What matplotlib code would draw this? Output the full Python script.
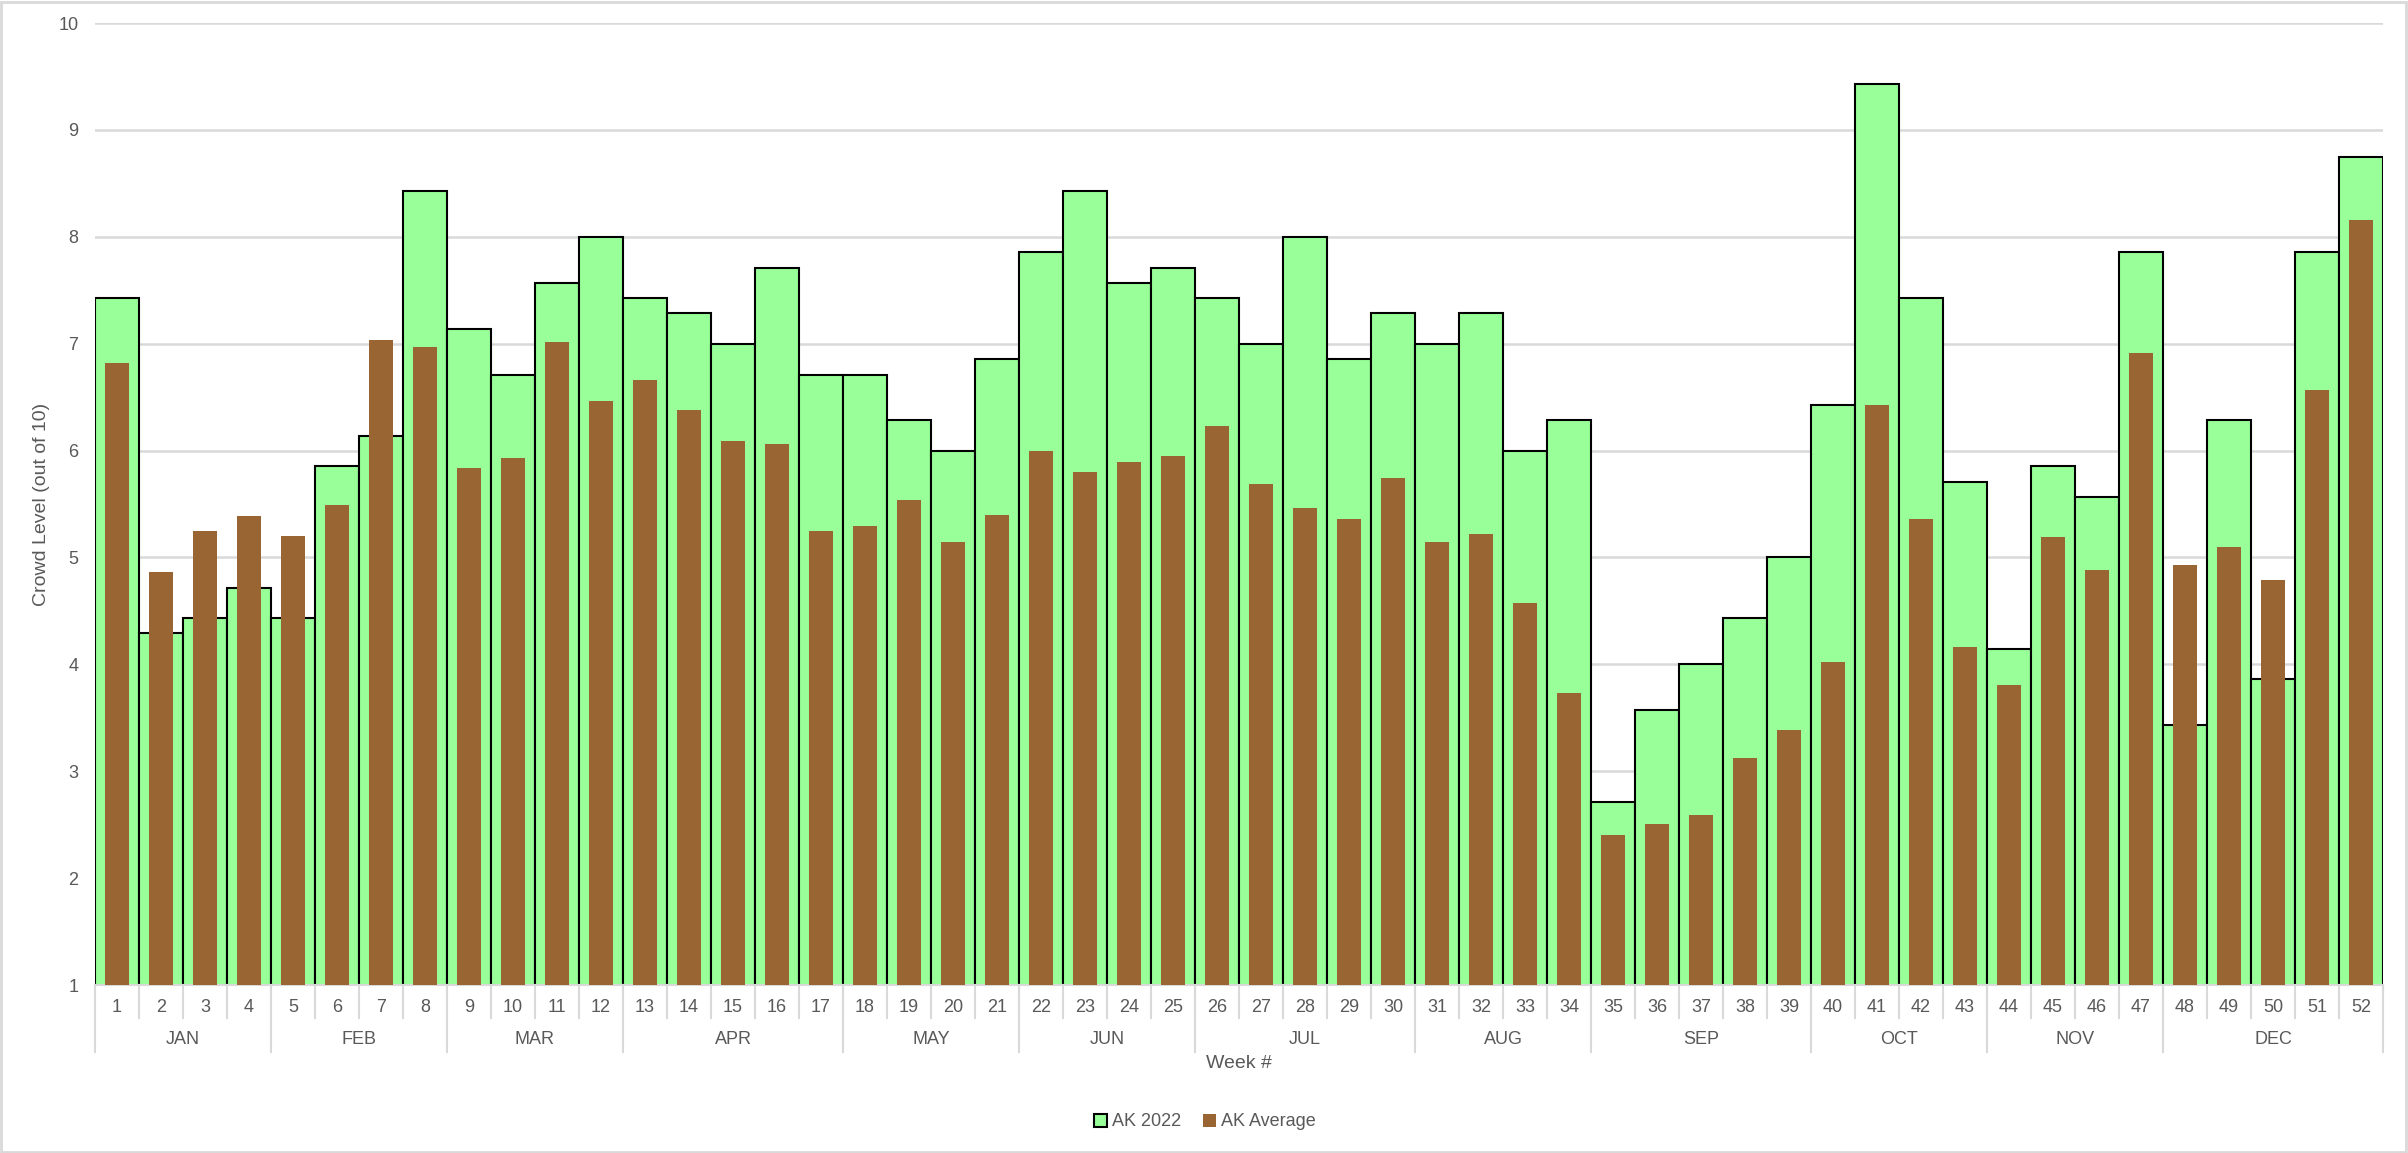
import numpy as np
import matplotlib
matplotlib.use('Agg')
from matplotlib import pyplot as plt
from matplotlib.patches import Rectangle, Patch

plt.rcParams['font.family'] = ['Liberation Sans', 'DejaVu Sans']

weeks = list(range(1, 53))
months = ['JAN', 'FEB', 'MAR', 'APR', 'MAY', 'JUN', 'JUL', 'AUG', 'SEP', 'OCT', 'NOV', 'DEC']
month_weeks = [4, 4, 4, 5, 4, 4, 5, 4, 5, 4, 4, 5]

ak_2022 = [7.43, 4.29, 4.43, 4.71, 4.43, 5.86, 6.14, 8.43, 7.14, 6.71, 7.57, 8.00, 7.43,
           7.29, 7.00, 7.71, 6.71, 6.71, 6.29, 6.00, 6.86, 7.86, 8.43, 7.57, 7.71, 7.43,
           7.00, 8.00, 6.86, 7.29, 7.00, 7.29, 6.00, 6.29, 2.71, 3.57, 4.00, 4.43, 5.00,
           6.43, 9.43, 7.43, 5.71, 4.14, 5.86, 5.57, 7.86, 3.43, 6.29, 3.86, 7.86, 8.75]
ak_avg = [6.82, 4.86, 5.25, 5.39, 5.20, 5.49, 7.03, 6.97, 5.84, 5.93, 7.02, 6.46, 6.66,
          6.38, 6.09, 6.06, 5.25, 5.29, 5.54, 5.14, 5.40, 6.00, 5.80, 5.89, 5.95, 6.23,
          5.69, 5.46, 5.36, 5.74, 5.14, 5.22, 4.57, 3.73, 2.40, 2.51, 2.59, 3.12, 3.39,
          4.02, 6.43, 5.36, 4.16, 3.81, 5.19, 4.88, 6.91, 4.93, 5.10, 4.79, 6.57, 8.16]

W, H = 2408, 1153
fig = plt.figure(figsize=(W / 100, H / 100), dpi=100)
# plot area in pixels: left 95, right 2383, top 23, bottom 985
ax = fig.add_axes([95 / W, 1 - 985 / H, (2383 - 95) / W, (985 - 23) / H])
axh = 985 - 23

def yfrac(ypix):  # pixel row below axis -> axes fraction
    return (985 - ypix) / axh

x = np.arange(len(weeks))
ax.bar(x, ak_2022, width=1.0, color='#99ff99', edgecolor='black', linewidth=1.5, zorder=2)
ax.bar(x, ak_avg, width=0.55, color='#996633', linewidth=0, zorder=3)

ax.set_xlim(-0.5, len(weeks) - 0.5)
ax.set_ylim(1, 10)
ax.set_yticks(range(1, 11))
ax.yaxis.grid(True, color='#d9d9d9', linewidth=1.8, zorder=0)
ax.set_axisbelow(True)
for s in ['top', 'right', 'left']:
    ax.spines[s].set_visible(False)
ax.spines['bottom'].set_color('#d9d9d9')
ax.spines['bottom'].set_linewidth(1.5)
ax.tick_params(axis='y', length=0, labelsize=13, labelcolor='#595959', pad=12)
ax.set_xticks([])

tr = ax.get_xaxis_transform()
gray = '#d9d9d9'
txt = '#595959'
# week labels and small separators
for i, w in enumerate(weeks):
    ax.text(i, yfrac(1007), str(w), transform=tr, ha='center', va='center',
            fontsize=13, color=txt)
for i in range(len(weeks) + 1):
    ax.plot([i - 0.5, i - 0.5], [0, yfrac(1018)], transform=tr, color=gray,
            linewidth=1.5, clip_on=False)
# month labels and long separators
start = 0
for m, n in zip(months, month_weeks):
    ax.plot([start - 0.5, start - 0.5], [0, yfrac(1052)], transform=tr, color=gray,
            linewidth=1.5, clip_on=False)
    ax.text(start + n / 2 - 0.5, yfrac(1040), m, transform=tr, ha='center', va='center',
            fontsize=13, color=txt)
    start += n
ax.plot([start - 0.5, start - 0.5], [0, yfrac(1052)], transform=tr, color=gray,
        linewidth=1.5, clip_on=False)

fig.text((95 + 2383) / 2 / W, 1 - 1064 / H, 'Week #', ha='center', va='center',
         fontsize=14, color=txt)
fig.text(42 / W, 1 - 504 / H, 'Crowd Level (out of 10)', ha='center', va='center',
         rotation=90, fontsize=14, color=txt)

handles = [Patch(facecolor='#99ff99', edgecolor='black', linewidth=1.5, label='AK 2022'),
           Patch(facecolor='#996633', label='AK Average')]
fig.legend(handles=handles, loc='center', bbox_to_anchor=(1205 / W, 1 - 1122 / H), ncol=2,
           frameon=False, fontsize=13, handlelength=0.7, handleheight=0.7,
           handletextpad=0.3, columnspacing=1.2, labelcolor=txt)

fig.patches.append(Rectangle((1 / W, 1 / H), 1 - 3 / W, 1 - 3 / H, transform=fig.transFigure,
                             fill=False, edgecolor=gray, linewidth=2))

fig.savefig('out.png', dpi=100)
